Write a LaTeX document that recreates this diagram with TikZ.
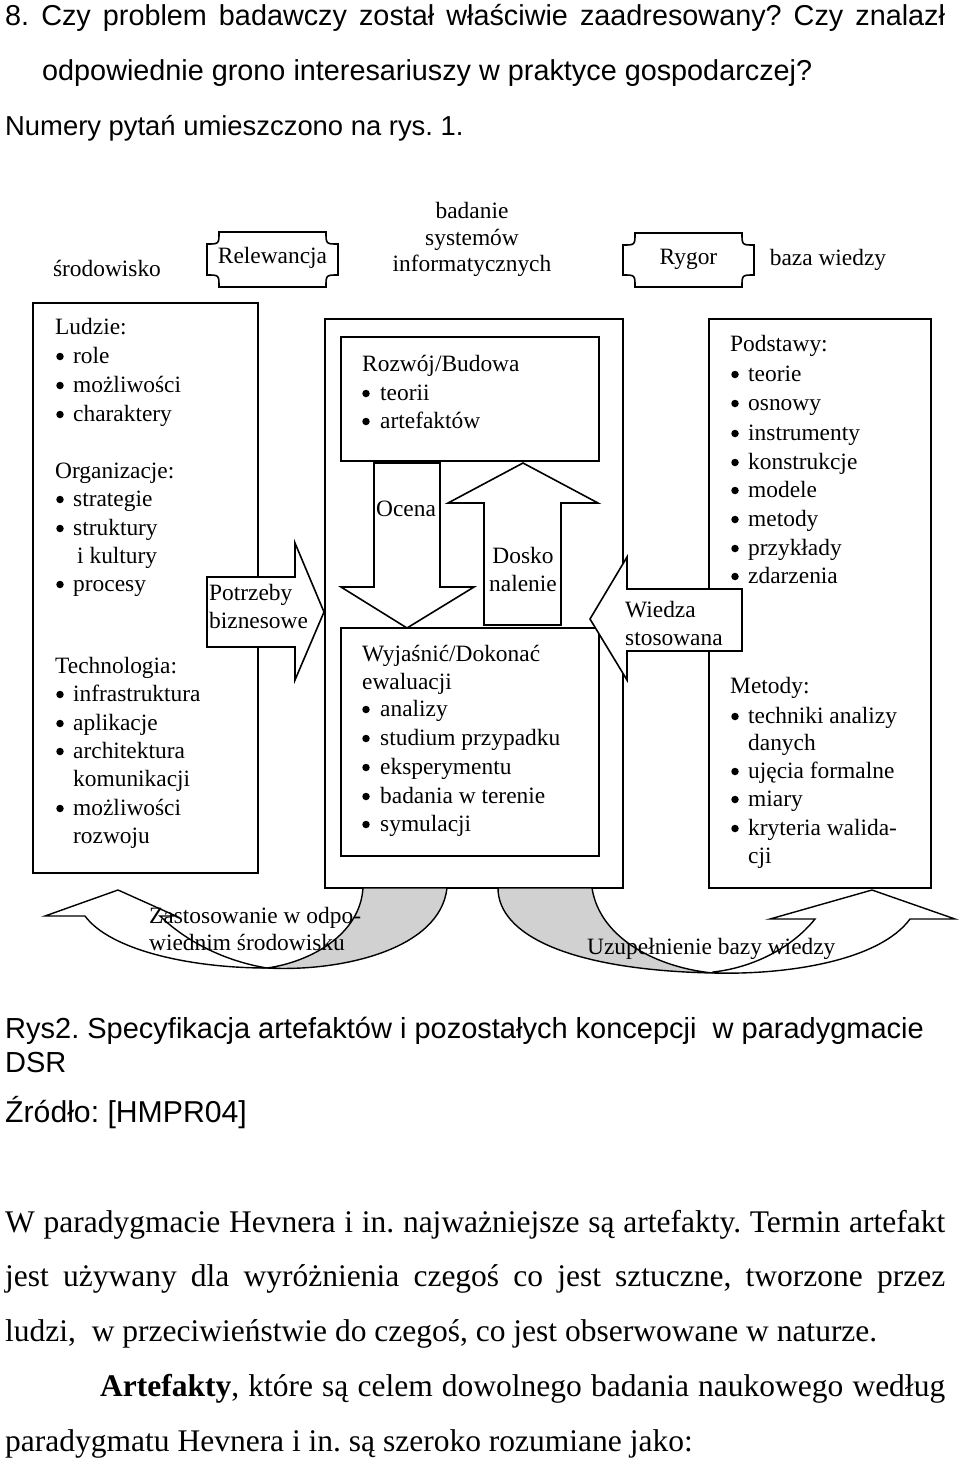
\documentclass[tikz,border=0pt]{standalone}
\usepackage{fontspec}
\setmainfont{Liberation Serif}
\setsansfont{Liberation Sans}
\newcommand\dsz{\fontsize{23.4}{28.5}\selectfont}
\newcommand\tsz{\fontsize{28.8}{55}\selectfont\sffamily}
\newcommand\nsz{\fontsize{27.4}{55}\selectfont\sffamily}
\newcommand\csz{\fontsize{29}{34}\selectfont\sffamily}
\newcommand\ssz{\fontsize{30.2}{34}\selectfont\sffamily}
\newcommand\psz{\fontsize{31.5}{55}\selectfont}
\tikzset{
  txt/.style={anchor=base west, inner sep=0pt, font=\dsz},
  ctxt/.style={anchor=base, inner sep=0pt, font=\dsz},
  dot/.style={circle, fill, inner sep=0pt, minimum size=7.5pt},
  frame/.style={draw, line width=1.6pt},
  blockarrow/.style={draw, fill=white, line width=1.6pt, line join=miter},
  backside/.style={draw, fill=black!18, line width=1.4pt},
  frontside/.style={draw, fill=white, line width=1.4pt},
}
\begin{document}
\frenchspacing
\begin{tikzpicture}[x=1pt,y=-1pt]
\useasboundingbox (0,0) rectangle (960,1460);

% tekst nad rysunkiem
\node[anchor=base west, inner sep=0pt, font=\tsz] (q1) at (5,25)
  {\makebox[940pt][s]{8. Czy problem badawczy został właściwie zaadresowany? Czy znalazł}};
\node[anchor=base west, inner sep=0pt, font=\tsz] (q2) at (42,80)
  {odpowiednie grono interesariuszy w praktyce gospodarczej?};
\node[anchor=base west, inner sep=0pt, font=\nsz] (q3) at (5,135)
  {Numery pytań umieszczono na rys. 1.};

% naglowki
\node[ctxt] (env) at (107,276) {środowisko};
\draw[frame] (219,232) -- (326,232) .. controls (326,244) .. (338,244) -- (338,275)
  .. controls (326,275) .. (326,287) -- (219,287) .. controls (219,275) .. (207,275)
  -- (207,244) .. controls (219,244) .. (219,232) -- cycle;
\node[ctxt] (rel) at (272.5,263) {Relewancja};
\node[ctxt] (isr1) at (472,218.5) {badanie};
\node[ctxt] (isr2) at (472,245) {systemów};
\node[ctxt] (isr3) at (472,271.5) {informatycznych};
\draw[frame] (635,233) -- (742,233) .. controls (742,245) .. (754,245) -- (754,275)
  .. controls (742,275) .. (742,287) -- (635,287) .. controls (635,275) .. (623,275)
  -- (623,245) .. controls (635,245) .. (635,233) -- cycle;
\node[ctxt] (ryg) at (688.5,264) {Rygor};
\node[ctxt] (kb) at (828,265) {baza wiedzy};

% ramki
\draw[frame] (33,303) rectangle (258,873);
\draw[frame] (325,319) rectangle (623,888);
\draw[frame] (709,319) rectangle (931,888);
\draw[frame] (341,337) rectangle (599,461);
\draw[frame] (341,628) rectangle (599,856);

% strzalki w srodku
\draw[blockarrow] (374,463) -- (440,463) -- (440,587) -- (474,587) -- (407,628)
  -- (341,587) -- (374,587) -- cycle;
\draw[blockarrow] (484,625) -- (484,503) -- (448,503) -- (523,463) -- (598,503)
  -- (561,503) -- (561,625) -- cycle;
\draw[blockarrow] (207,577) -- (295,577) -- (295,543) -- (324,612) -- (295,680)
  -- (295,647) -- (207,647) -- cycle;
\draw[blockarrow] (742,589) -- (627,589) -- (627,557) -- (590,619) -- (627,680)
  -- (627,651) -- (742,651) -- cycle;

% strzalki na dole
\draw[backside] (447,888) .. controls (440,950) and (340,972) .. (267,968)
  .. controls (310,962) and (360,935) .. (363,888) -- cycle;
\draw[frontside] (267,968) .. controls (190,968) and (110,950) .. (85,916) -- (45,916)
  -- (118,890) -- (176,916) -- (160,916) .. controls (190,945) and (230,962) .. (267,968) -- cycle;
\draw[backside] (498,888) .. controls (498,935) and (570,970) .. (713,973)
  .. controls (660,968) and (600,940) .. (592,888) -- cycle;
\draw[frontside] (713,973) .. controls (790,975) and (880,960) .. (910,919) -- (955,919)
  -- (872,890) -- (770,919) -- (815,919) .. controls (790,950) and (750,968) .. (713,972) -- cycle;

% lewa ramka
\node[txt] (ppl) at (55,334) {Ludzie:};
\foreach \t/\yy [count=\i] in {role/363, możliwości/392, charaktery/421}{
  \node[dot] (pb\i) at (60,\yy-6.5) {};
  \node[txt] (p\i) at (73,\yy) {\t};
}
\node[txt] (org) at (55,478) {Organizacje:};
\foreach \t/\yy [count=\i] in {strategie/506, struktury/535, procesy/591}{
  \node[dot] (ob\i) at (60,\yy-6.5) {};
  \node[txt] (o\i) at (73,\yy) {\t};
}
\node[txt] (o4) at (77,563) {i kultury};
\node[txt] (tech) at (55,673) {Technologia:};
\foreach \t/\yy [count=\i] in {infrastruktura/701, aplikacje/730, architektura/758, możliwości/815}{
  \node[dot] (tb\i) at (60,\yy-6.5) {};
  \node[txt] (t\i) at (73,\yy) {\t};
}
\node[txt] (t5) at (73,786) {komunikacji};
\node[txt] (t6) at (73,843) {rozwoju};
\node[txt] (need1) at (209,600) {Potrzeby};
\node[txt] (need2) at (209,628) {biznesowe};

% srodkowa ramka
\node[txt] (dev) at (362,371) {Rozwój/Budowa};
\foreach \t/\yy [count=\i] in {teorii/400, artefaktów/428}{
  \node[dot] (db\i) at (366,\yy-6.5) {};
  \node[txt] (d\i) at (380,\yy) {\t};
}
\node[txt] (assess) at (376,516) {Ocena};
\node[ctxt] (ref1) at (523,563) {Dosko};
\node[ctxt] (ref2) at (523,591) {nalenie};
\node[txt] (jus) at (362,661) {Wyjaśnić/Dokonać};
\node[txt] (jus2) at (362,689) {ewaluacji};
\foreach \t/\yy [count=\i] in {analizy/716, studium przypadku/745, eksperymentu/774,
  badania w terenie/803, symulacji/831}{
  \node[dot] (eb\i) at (366,\yy-6.5) {};
  \node[txt] (e\i) at (380,\yy) {\t};
}

% prawa ramka
\node[txt] (fund) at (730,351) {Podstawy:};
\foreach \t/\yy [count=\i] in {teorie/381, osnowy/410, instrumenty/440, konstrukcje/469,
  modele/497, metody/526, przykłady/555, zdarzenia/583}{
  \node[dot] (fb\i) at (735,\yy-6.5) {};
  \node[txt] (f\i) at (748,\yy) {\t};
}
\node[txt] (meth) at (730,693) {Metody:};
\foreach \t/\yy [count=\i] in {techniki analizy/723, ujęcia formalne/778, miary/806,
  kryteria walida-/835}{
  \node[dot] (mb\i) at (735,\yy-6.5) {};
  \node[txt] (m\i) at (748,\yy) {\t};
}
\node[txt] (m5) at (748,750) {danych};
\node[txt] (m6) at (748,863) {cji};
\node[txt] (appl1) at (625,617) {Wiedza};
\node[txt] (appl2) at (625,645) {stosowana};

% podpisy strzalek na dole
\node[txt] (use1) at (149,923) {Zastosowanie w odpo-};
\node[txt] (use2) at (149,950) {wiednim środowisku};
\node[txt] (add) at (587,954) {Uzupełnienie bazy wiedzy};

% podpis
\node[anchor=base west, inner sep=0pt, font=\csz] (cap1) at (5,1038)
  {Rys2. Specyfikacja artefaktów i pozostałych koncepcji~ w paradygmacie};
\node[anchor=base west, inner sep=0pt, font=\csz] (cap2) at (5,1072) {DSR};
\node[anchor=base west, inner sep=0pt, font=\ssz] (src) at (5,1122) {Źródło: [HMPR04]};

% tekst pod rysunkiem
\node[anchor=base west, inner sep=0pt, font=\psz] (b1) at (5,1232)
  {\makebox[940pt][s]{W paradygmacie Hevnera i in. najważniejsze są artefakty. Termin artefakt}};
\node[anchor=base west, inner sep=0pt, font=\psz] (b2) at (5,1286)
  {\makebox[940pt][s]{jest używany dla wyróżnienia czegoś co jest sztuczne, tworzone przez}};
\node[anchor=base west, inner sep=0pt, font=\psz] (b3) at (5,1341)
  {ludzi,~ w przeciwieństwie do czegoś, co jest obserwowane w naturze.};
\node[anchor=base west, inner sep=0pt, font=\psz] (b4) at (100,1396)
  {\makebox[845pt][s]{\textbf{Artefakty}, które są celem dowolnego badania naukowego według}};
\node[anchor=base west, inner sep=0pt, font=\psz] (b5) at (5,1451)
  {paradygmatu Hevnera i in. są szeroko rozumiane jako:};
\end{tikzpicture}
\end{document}
